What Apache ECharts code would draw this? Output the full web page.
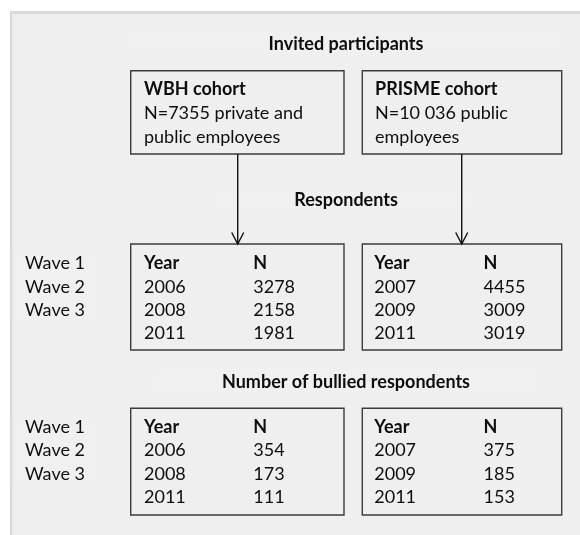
<!DOCTYPE html>
<html><head><meta charset="utf-8">
<script src="https://cdn.jsdelivr.net/npm/echarts@6/dist/echarts.min.js"></script>
<style>html,body{margin:0;padding:0;background:#fff}#c{width:580px;height:535px}</style>
</head><body><div id="c"></div>
<script>
// ---- data ----
const sectionTitles = ['Invited participants', 'Respondents', 'Number of bullied respondents'];
const cohortNames = ['WBH cohort', 'PRISME cohort'];
const cohortDescriptions = [['N=7355 private and', 'public employees'], ['N=10 036 public', 'employees']];
const waveLabels = ['Wave 1', 'Wave 2', 'Wave 3'];
const columnHeaders = ['Year', 'N'];
const wbhYears = [2006, 2008, 2011];
const wbhRespondents = [3278, 2158, 1981];
const wbhBullied = [354, 173, 111];
const prismeYears = [2007, 2009, 2011];
const prismeRespondents = [4455, 3009, 3019];
const prismeBullied = [375, 185, 153];

// ---- layout / style (positions in chart units, mapped through axes) ----
const FONT = 'Lato, "Open Sans", sans-serif';
const FS = 18;
const TXT = '#0e0e0e';
const BORDER = '#3c3c3c';
const L = {
  panel: [10, 11],
  boxX: [[130.7, 344], [362.3, 561.7]],
  boxY: [[70.7, 154], [244, 350], [408.3, 515]],
  titleY: [44, 200, 381.7],
  titleX: 346,
  titleBg: [[127.8, 31.7, 566.7, 54], [211, 186.7, 477.8, 210], [153.7, 369.3, 537, 393.3]],
  cohortTextX: [144, 375],
  cohortTextY: [89.3, 113.3, 136.7],
  yearX: [144, 374.3],
  nX: [253.3, 483.6],
  tableRowY: [[263.3, 23.4], [426.7, 23.6]],
  waveX: 25,
  waveBg: [[15, 250, 96.7, 321.7], [15, 418, 96.7, 483]],
  arrowX: [237.7, 461.7]
};

function renderItem(params, api) {
  const P = (x, y) => api.coord([x, y]);
  const children = [];
  function rect(x1, y1, x2, y2, style) {
    const a = P(x1, y1), b = P(x2, y2);
    children.push({ type: 'rect', shape: { x: a[0], y: a[1], width: b[0] - a[0], height: b[1] - a[1] }, style: style });
  }
  function line(x1, y1, x2, y2) {
    const a = P(x1, y1), b = P(x2, y2);
    children.push({ type: 'line', shape: { x1: a[0], y1: a[1], x2: b[0], y2: b[1] }, style: { stroke: '#111', lineWidth: 1.4 } });
  }
  function text(str, x, y, bold, align) {
    const p = P(x, y);
    children.push({ type: 'text', style: { text: String(str), x: p[0], y: p[1], fill: TXT,
      font: (bold ? 'bold ' : '') + FS + 'px ' + FONT, align: align || 'left', verticalAlign: 'middle' } });
  }
  // panel
  rect(L.panel[0], L.panel[1], 580, 535, { fill: '#dadada' });
  rect(L.panel[0] + 2.3, L.panel[1] + 3, 580, 535, { fill: '#efefef' });
  // title backgrounds & wave label backgrounds
  L.titleBg.forEach(r => rect(r[0], r[1], r[2], r[3], { fill: '#f0f0f0' }));
  L.waveBg.forEach(r => rect(r[0], r[1], r[2], r[3], { fill: '#f0f0f0' }));
  // boxes
  L.boxY.forEach(by => L.boxX.forEach(bx => rect(bx[0], by[0], bx[1], by[1], { fill: 'none', stroke: BORDER, lineWidth: 1.4 })));
  // arrows
  L.arrowX.forEach(ax => {
    line(ax, L.boxY[0][1], ax, L.boxY[1][0]);
    const t = L.boxY[1][0];
    const a = P(ax - 6, t - 11.5), b = P(ax, t), c = P(ax + 6, t - 11.5);
    children.push({ type: 'polyline', shape: { points: [a, b, c] }, style: { stroke: '#111', lineWidth: 1.4, fill: 'none' } });
  });
  // section titles
  sectionTitles.forEach((t, i) => text(t, L.titleX, L.titleY[i], true, 'center'));
  // cohort boxes text
  cohortNames.forEach((name, i) => {
    text(name, L.cohortTextX[i], L.cohortTextY[0], true);
    cohortDescriptions[i].forEach((d, j) => text(d, L.cohortTextX[i], L.cohortTextY[j + 1], false));
  });
  // tables
  const tables = [[[wbhYears, wbhRespondents], [prismeYears, prismeRespondents]],
                  [[wbhYears, wbhBullied], [prismeYears, prismeBullied]]];
  tables.forEach((sec, s) => {
    const y0 = L.tableRowY[s][0], dy = L.tableRowY[s][1];
    waveLabels.forEach((w, k) => text(w, L.waveX, y0 + dy * k, false));
    sec.forEach((tbl, c) => {
      text(columnHeaders[0], L.yearX[c], y0, true);
      text(columnHeaders[1], L.nX[c], y0, true);
      tbl[0].forEach((yr, k) => {
        text(yr, L.yearX[c], y0 + dy * (k + 1), false);
        text(tbl[1][k], L.nX[c], y0 + dy * (k + 1), false);
      });
    });
  });
  return { type: 'group', children: children };
}

const chart = echarts.init(document.getElementById('c'), null, { renderer: 'canvas' });
chart.setOption({
  animation: false,
  backgroundColor: '#ffffff',
  grid: { left: 0, right: 0, top: 0, bottom: 0 },
  xAxis: { type: 'value', min: 0, max: 580, show: false },
  yAxis: { type: 'value', min: 0, max: 535, inverse: true, show: false },
  series: [{ type: 'custom', renderItem: renderItem, clip: false, silent: true, data: [[0, 0]] }]
});
</script></body></html>
